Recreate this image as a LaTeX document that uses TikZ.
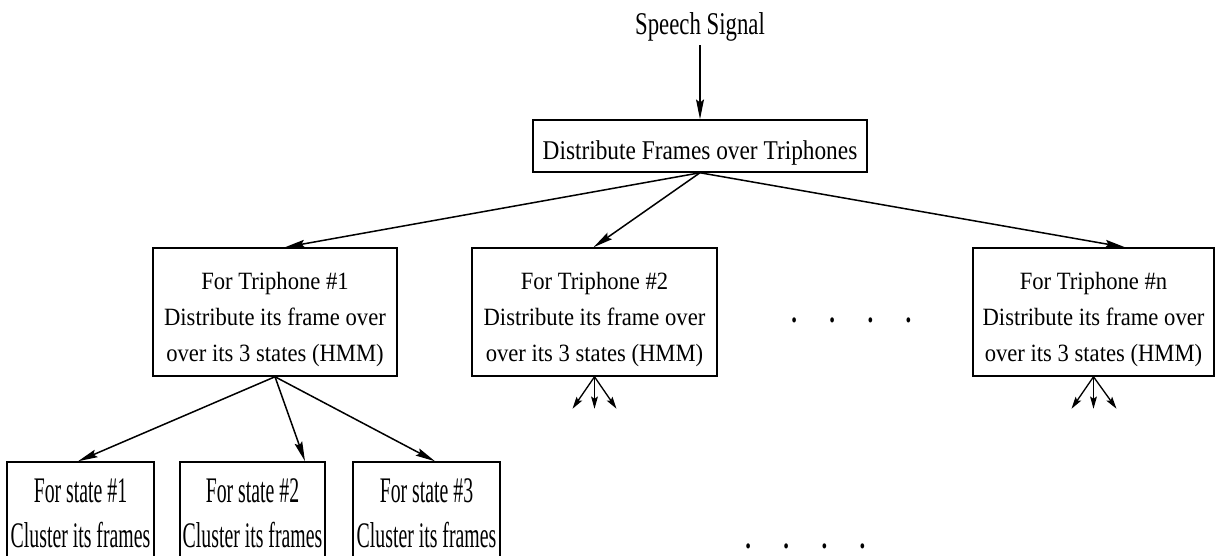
\documentclass[tikz,border=0pt]{standalone}
\usepackage{fontspec}
\setmainfont{Liberation Serif}
% narrow, tall faces of the same serif family
\newfontfamily\sigfont[FakeStretch=0.72]{Liberation Serif}
\newfontfamily\topfont[FakeStretch=0.86]{Liberation Serif}
\newfontfamily\trifont[FakeStretch=0.91]{Liberation Serif}
\newfontfamily\statefont[FakeStretch=0.55]{Liberation Serif}
\usetikzlibrary{arrows.meta,calc}
\begin{document}
\def\u{0.531pt}
\begin{tikzpicture}[x=0.531pt,y=-0.531pt,
  box/.style={draw,line width=0.8pt,inner sep=0pt,align=center},
  plain/.style={inner sep=0pt},
  arr/.style={line width=0.8pt,-{Stealth[length=10.5pt,width=4.2pt,inset=1.6pt]}},
  fan/.style={line width=0.7pt,-{Stealth[length=6.5pt,width=3.6pt,inset=1.2pt]}},
]
\useasboundingbox (0,0) rectangle (1219,555);
\clip (0,0) rectangle (1219,555);

% input and first distribution step
\node[plain,anchor=base,font=\sigfont\fontsize{16.8}{20}\selectfont] (speech) at (700,34)
  {Speech Signal};
\node[box,minimum width=334*\u,minimum height=52*\u,
      font=\topfont\fontsize{14.4}{17}\selectfont] (top) at (700,146)
  {\rule{0pt}{17.9pt}Distribute Frames over Triphones};

% one box per triphone
\tikzset{tribox/.style={box,minimum height=128*\u,
    font=\trifont\fontsize{13.2}{19.1}\selectfont}}
\node[tribox,minimum width=244*\u] (t1) at (275,312)
  {\rule{0pt}{16.7pt}For Triphone \#1\\Distribute its frame over\\over its 3 states (HMM)};
\node[tribox,minimum width=245*\u] (t2) at (594.5,312)
  {\rule{0pt}{16.7pt}For Triphone \#2\\Distribute its frame over\\over its 3 states (HMM)};
\node[tribox,minimum width=241*\u] (tn) at (1093.5,312)
  {\rule{0pt}{16.7pt}For Triphone \#n\\Distribute its frame over\\over its 3 states (HMM)};
\node[plain,anchor=base west,font=\sigfont\bfseries\fontsize{16.8}{20}\selectfont] (dotsA) at (791,322)
  {.\hspace{17.2pt}.\hspace{17.2pt}.\hspace{17.2pt}.};

% one box per HMM state
\tikzset{statebox/.style={box,minimum height=100*\u,
    font=\statefont\fontsize{19.1}{23.9}\selectfont}}
\node[statebox,minimum width=147*\u] (s1) at (80.5,512)
  {\rule{0pt}{14.3pt}For state \#1\\Cluster its frames};
\node[statebox,minimum width=145*\u] (s2) at (252.5,512)
  {\rule{0pt}{14.3pt}For state \#2\\Cluster its frames};
\node[statebox,minimum width=147*\u] (s3) at (426.5,512)
  {\rule{0pt}{14.3pt}For state \#3\\Cluster its frames};
\node[plain,anchor=base west,font=\sigfont\bfseries\fontsize{16.8}{20}\selectfont] (dotsB) at (745,548)
  {.\hspace{17.2pt}.\hspace{17.2pt}.\hspace{17.2pt}.};

% connectors
\draw[arr] ($(speech.south)+(0,4)$) -- (top.north);
\draw[arr] (top.south) -- ($(t1.north)+(10,0)$);
\draw[arr] (top.south) -- ($(t2.north)+(-1,0)$);
\draw[arr] (top.south) -- ($(tn.north)+(31.5,0)$);
\draw[arr] (t1.south) -- ($(s1.north)+(-2.5,0)$);
\draw[arr] (t1.south) -- ($(s2.north)+(52.5,0)$);
\draw[arr] (t1.south) -- ($(s3.north)+(8.5,0)$);

% fan-out stubs below the other triphones
\coordinate (f2a) at ($(t2.south)+(-22,32)$);
\coordinate (f2b) at ($(t2.south)+(0,32)$);
\coordinate (f2c) at ($(t2.south)+(22,32)$);
\coordinate (fna) at ($(tn.south)+(-22,32)$);
\coordinate (fnb) at ($(tn.south)+(0,32)$);
\coordinate (fnc) at ($(tn.south)+(23,32)$);
\foreach \e in {f2a,f2b,f2c} \draw[fan] (t2.south) -- (\e);
\foreach \e in {fna,fnb,fnc} \draw[fan] (tn.south) -- (\e);
\end{tikzpicture}
\end{document}
